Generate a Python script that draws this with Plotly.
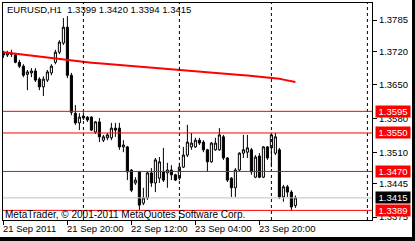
import plotly.graph_objects as go

# ---------------- data (EURUSD, H1) ----------------
open_ = [1.3716, 1.3712, 1.3716, 1.3712, 1.3697, 1.3689, 1.3672, 1.3675, 1.3679, 1.3662,
         1.3646, 1.3660, 1.3675, 1.3697, 1.3718, 1.3737, 1.3770, 1.3670, 1.3591, 1.3571,
         1.3585, 1.3583, 1.3583, 1.3552, 1.3573, 1.3535, 1.3540, 1.3540, 1.3560, 1.3560,
         1.3521, 1.3521, 1.3473, 1.3446, 1.3469, 1.3404, 1.3415, 1.3467, 1.3446, 1.3456,
         1.3469, 1.3467, 1.3473, 1.3463, 1.3456, 1.3479, 1.3504, 1.3521, 1.3521, 1.3535,
         1.3531, 1.3515, 1.3490, 1.3515, 1.3515, 1.3542, 1.3498, 1.3456, 1.3436, 1.3473,
         1.3508, 1.3510, 1.3515, 1.3458, 1.3502, 1.3458, 1.3521, 1.3519, 1.3508, 1.3515,
         1.3417, 1.3438, 1.3427, 1.3399]
high = [1.3721, 1.3721, 1.3723, 1.3716, 1.3702, 1.3693, 1.3681, 1.3685, 1.3685, 1.3666,
        1.3668, 1.3681, 1.3693, 1.3723, 1.3743, 1.3789, 1.3793, 1.3675, 1.3608, 1.3591,
        1.3593, 1.3585, 1.3585, 1.3575, 1.3581, 1.3546, 1.3550, 1.3571, 1.3571, 1.3571,
        1.3535, 1.3523, 1.3475, 1.3458, 1.3471, 1.3436, 1.3471, 1.3477, 1.3498, 1.3500,
        1.3519, 1.3488, 1.3483, 1.3465, 1.3488, 1.3521, 1.3567, 1.3550, 1.3540, 1.3540,
        1.3535, 1.3517, 1.3531, 1.3540, 1.3560, 1.3546, 1.3500, 1.3458, 1.3477, 1.3510,
        1.3546, 1.3546, 1.3519, 1.3504, 1.3508, 1.3523, 1.3523, 1.3550, 1.3550, 1.3519,
        1.3442, 1.3442, 1.3431, 1.3420]
low = [1.3706, 1.3708, 1.3708, 1.3695, 1.3685, 1.3666, 1.3639, 1.3666, 1.3656, 1.3639,
       1.3627, 1.3656, 1.3670, 1.3693, 1.3714, 1.3733, 1.3664, 1.3587, 1.3567, 1.3556,
       1.3577, 1.3573, 1.3554, 1.3548, 1.3531, 1.3531, 1.3535, 1.3535, 1.3542, 1.3515,
       1.3510, 1.3452, 1.3427, 1.3442, 1.3390, 1.3400, 1.3411, 1.3438, 1.3427, 1.3446,
       1.3448, 1.3436, 1.3452, 1.3450, 1.3452, 1.3477, 1.3500, 1.3515, 1.3519, 1.3525,
       1.3510, 1.3469, 1.3488, 1.3513, 1.3513, 1.3494, 1.3448, 1.3417, 1.3417, 1.3471,
       1.3498, 1.3498, 1.3463, 1.3456, 1.3456, 1.3456, 1.3494, 1.3479, 1.3504, 1.3413,
       1.3407, 1.3417, 1.3389, 1.3394]
close = [1.3712, 1.3716, 1.3714, 1.3697, 1.3689, 1.3670, 1.3677, 1.3679, 1.3660, 1.3646,
         1.3662, 1.3677, 1.3689, 1.3718, 1.3739, 1.3770, 1.3670, 1.3593, 1.3571, 1.3583,
         1.3581, 1.3577, 1.3556, 1.3573, 1.3542, 1.3542, 1.3546, 1.3560, 1.3556, 1.3521,
         1.3525, 1.3469, 1.3431, 1.3452, 1.3400, 1.3415, 1.3467, 1.3446, 1.3494, 1.3490,
         1.3452, 1.3473, 1.3463, 1.3452, 1.3479, 1.3504, 1.3531, 1.3529, 1.3535, 1.3529,
         1.3515, 1.3490, 1.3529, 1.3529, 1.3546, 1.3498, 1.3452, 1.3436, 1.3473, 1.3508,
         1.3515, 1.3519, 1.3469, 1.3500, 1.3458, 1.3521, 1.3498, 1.3546, 1.3542, 1.3417,
         1.3438, 1.3427, 1.3396, 1.3415]
moving_avg = [1.37178, 1.37168, 1.37157, 1.37147, 1.37137, 1.37126, 1.37116, 1.37105, 1.37095, 1.37085,
              1.37074, 1.37064, 1.37053, 1.37043, 1.37033, 1.37022, 1.37012, 1.36997, 1.36991, 1.36983,
              1.36976, 1.36968, 1.36962, 1.36954, 1.36947, 1.36939, 1.36933, 1.36924, 1.36918, 1.36910,
              1.36904, 1.36897, 1.36891, 1.36883, 1.36877, 1.36868, 1.36860, 1.36852, 1.36843, 1.36833,
              1.36825, 1.36818, 1.36810, 1.36806, 1.36802, 1.36795, 1.36789, 1.36783, 1.36777, 1.36770,
              1.36764, 1.36758, 1.36752, 1.36746, 1.36739, 1.36733, 1.36727, 1.36721, 1.36714, 1.36708,
              1.36702, 1.36696, 1.36689, 1.36683, 1.36677, 1.36669, 1.36660, 1.36652, 1.36639, 1.36627,
              1.36610, 1.36594, 1.36577, 1.36560]
bar_index = list(range(len(open_)))

level_lines = [1.3595, 1.3550, 1.3470, 1.3389]
bid_price = 1.3415
separator_bars = [20, 44, 67, 91]

price_ticks = [1.3785, 1.3720, 1.3650, 1.3580, 1.3510, 1.3445, 1.3375]
time_tick_bars = [0, 16, 32, 48, 64]
time_tick_labels = ["21 Sep 2011", "21 Sep 20:00", "22 Sep 12:00", "23 Sep 04:00", "23 Sep 20:00"]

title_text = "EURUSD,H1  1.3399 1.3420 1.3394 1.3415"
copyright_text = "MetaTrader, \u00a9 2001-2011 MetaQuotes Software Corp."

# ---------------- figure ----------------
W, H = 415, 241
ML, MR, MT, MB = 3, 43, 3, 21
PW, PH = W - ML - MR, H - MT - MB
FONT = "Liberation Sans"
FS = 9.5


def px_x(p):
    return (p - ML) / PW


def px_y(p):
    return (H - MB - p) / PH


fig = go.Figure()

fig.add_trace(go.Candlestick(
    x=bar_index, open=open_, high=high, low=low, close=close,
    increasing=dict(line=dict(color="black", width=1), fillcolor="white"),
    decreasing=dict(line=dict(color="black", width=1), fillcolor="black"),
    whiskerwidth=0, hoverinfo="skip", showlegend=False,
))

fig.add_trace(go.Scatter(
    x=bar_index, y=moving_avg, mode="lines",
    line=dict(color="#ff0000", width=2), hoverinfo="skip", showlegend=False,
))

shapes = []
for b in separator_bars:
    shapes.append(dict(type="line", xref="x", yref="paper", x0=b, x1=b, y0=0, y1=1,
                       line=dict(color="black", width=1, dash="3px,3px"), layer="above"))
shapes.append(dict(type="line", xref="paper", yref="y", x0=0, x1=1, y0=bid_price, y1=bid_price,
                   line=dict(color="#c0c0c0", width=1), layer="above"))
for lv in level_lines:
    shapes.append(dict(type="line", xref="paper", yref="y", x0=0, x1=1, y0=lv, y1=lv,
                       line=dict(color="#ff0000", width=1), layer="above"))
# black frame strips at right and bottom of the window
shapes.append(dict(type="rect", xref="paper", yref="paper", x0=px_x(412), x1=px_x(416),
                   y0=px_y(242), y1=px_y(-1), fillcolor="black", line=dict(width=0)))
shapes.append(dict(type="rect", xref="paper", yref="paper", x0=px_x(-1), x1=px_x(416),
                   y0=px_y(242), y1=px_y(237), fillcolor="black", line=dict(width=0)))

annotations = []
# price labels on the axis (level lines and bid)
for lv in level_lines:
    annotations.append(dict(xref="paper", yref="y", x=px_x(375), y=lv, xanchor="left", yanchor="middle",
                            text=f"{lv:.4f}", showarrow=False, bgcolor="#ff0000",
                            font=dict(family=FONT, size=FS, color="white"),
                            width=33, height=10, borderpad=0.5, align="center"))
annotations.append(dict(xref="paper", yref="y", x=px_x(375), y=bid_price, xanchor="left", yanchor="middle",
                        text=f"{bid_price:.4f}", showarrow=False, bgcolor="black",
                        font=dict(family=FONT, size=FS, color="white"),
                        width=33, height=10, borderpad=0.5, align="center"))
# time labels, left-aligned at tick marks
for b, t in zip(time_tick_bars, time_tick_labels):
    annotations.append(dict(xref="x", yref="paper", x=b, y=px_y(229), xanchor="left", yanchor="middle",
                            xshift=-2, text=t, showarrow=False,
                            font=dict(family=FONT, size=FS, color="black")))
annotations.append(dict(xref="paper", yref="paper", x=px_x(5), y=px_y(9.5), xanchor="left", yanchor="middle",
                        text=title_text, showarrow=False, font=dict(family=FONT, size=FS, color="black")))
annotations.append(dict(xref="paper", yref="paper", x=px_x(3), y=px_y(214.5), xanchor="left", yanchor="middle",
                        text=copyright_text, showarrow=False, font=dict(family=FONT, size=10, color="black")))

bar_px = 4.0
x0 = -0.1
x1 = x0 + PW / bar_px
price_per_px = 0.000208
y_top = 1.3785 + (20 - MT) * price_per_px
y_bot = 1.3785 - (H - MB - 20) * price_per_px

fig.update_layout(
    width=W, height=H,
    margin=dict(l=ML, r=MR, t=MT, b=MB, pad=0),
    paper_bgcolor="white", plot_bgcolor="white",
    showlegend=False,
    boxgap=0.25,
    shapes=shapes, annotations=annotations,
    font=dict(family=FONT, size=FS, color="black"),
    xaxis=dict(range=[x0, x1], rangeslider=dict(visible=False), showgrid=False, zeroline=False,
               showline=True, linecolor="black", linewidth=1, mirror=True,
               tickmode="array", tickvals=time_tick_bars, ticktext=[""] * len(time_tick_bars),
               ticks="outside", ticklen=4, tickcolor="black", tickwidth=1, fixedrange=True),
    yaxis=dict(range=[y_bot, y_top], side="right", showgrid=False, zeroline=False,
               showline=True, linecolor="black", linewidth=1, mirror=True,
               tickmode="array", tickvals=price_ticks, ticktext=[f"{v:.4f}" for v in price_ticks],
               ticks="outside", ticklen=4, tickcolor="black", tickwidth=1,
               tickfont=dict(family=FONT, size=FS, color="black"), fixedrange=True),
)

fig.write_html("out.html")
